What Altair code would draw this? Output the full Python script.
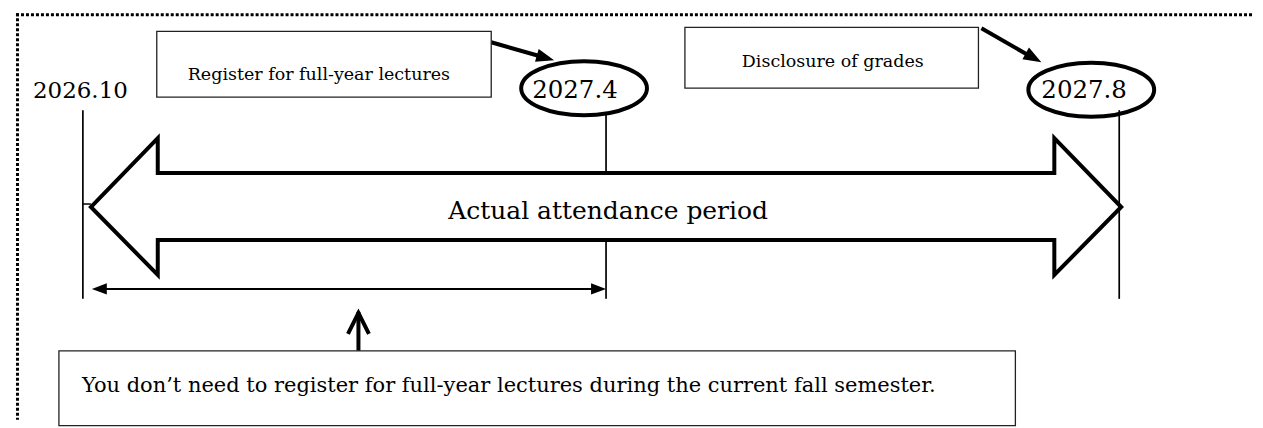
import altair as alt
import pandas as pd

# ---------------- diagram content (page-pixel coordinate system) ----------------
# dotted frame (top edge, left edge)
frame_x = [16, 17.5]
frame_y = [14.5, 13]
frame_x2 = [1255, 17.5]
frame_y2 = [14.5, 420]

# big double-headed arrow ("Actual attendance period"): outline as top / bottom edges
band_x = [91, 158, 158.01, 1056, 1056.01, 1123]
band_top = [207, 138, 173, 173, 138, 207]
band_bottom = [207, 275, 240, 240, 275, 207]

# rectangular boxes
box_x = [157, 686, 59]
box_x2 = [492, 980, 1017]
box_y = [31, 27, 351]
box_y2 = [97, 88, 426]

# ellipses around the dates
ellipse_x = [585, 1093]
ellipse_y = [88, 89.5]

# texts
text_labels = [
    "2026.10",
    "2027.4",
    "2027.8",
    "Register for full-year lectures",
    "Disclosure of grades",
    "Actual attendance period",
    "You don\u2019t need to register for full-year lectures during the current fall semester.",
]
text_x = [33, 533, 1043, 188, 743, 449, 82]
text_y = [98, 98, 98, 80, 67, 219, 392]
text_size = [23, 24.5, 24.5, 17.5, 17.5, 25, 21]

# straight segments: three timeline markers, tick, arrow shafts, span line, up-arrow shaft
seg_x = [83, 607, 1121, 83, 492, 983, 98, 359]
seg_y = [110, 112, 110, 204, 42, 28, 289, 312]
seg_x2 = [83, 607, 1121, 91, 541, 1030, 600, 359]
seg_y2 = [299, 299, 299, 204, 56, 55, 289, 352]
seg_w = [1.7, 1.7, 1.7, 1.5, 4, 4, 2, 4]

# filled arrow heads
head_x = [555, 1043, 92, 607]
head_y = [60, 62, 289, 289]
head_angle = [16, 29.5, 180, 0]
head_size = [1296, 1296, 900, 900]

# open chevron head of the up arrow
chevron_x = [359]
chevron_y = [313]

# ---------------- build chart ----------------
xs = alt.Scale(domain=[8, 1255], nice=False, zero=False)
ys = alt.Scale(domain=[8, 420], nice=False, zero=False, reverse=True)

frame_df = pd.DataFrame({"x": frame_x, "y": frame_y, "x2": frame_x2, "y2": frame_y2})
seg_df = pd.DataFrame({"x": seg_x, "y": seg_y, "x2": seg_x2, "y2": seg_y2, "w": seg_w})
band_df = pd.DataFrame({"x": band_x, "top": band_top, "bottom": band_bottom})
box_df = pd.DataFrame({"x": box_x, "x2": box_x2, "y": box_y, "y2": box_y2})
ell_df = pd.DataFrame({"x": ellipse_x, "y": ellipse_y})
text_df = pd.DataFrame({"label": text_labels, "x": text_x, "y": text_y, "fs": text_size})
head_df = pd.DataFrame({"x": head_x, "y": head_y, "a": head_angle, "s": head_size})
chev_df = pd.DataFrame({"x": chevron_x, "y": chevron_y})

X = lambda f="x": alt.X(f"{f}:Q", scale=xs, axis=None)
Y = lambda f="y": alt.Y(f"{f}:Q", scale=ys, axis=None)

frame = alt.Chart(frame_df).mark_rule(
    color="black", strokeWidth=3, strokeDash=[3, 2], strokeCap="butt"
).encode(x=X(), y=Y(), x2="x2:Q", y2="y2:Q")

segs = alt.Chart(seg_df).mark_rule(color="black", strokeCap="butt").encode(
    x=X(), y=Y(), x2="x2:Q", y2="y2:Q",
    strokeWidth=alt.StrokeWidth("w:Q", scale=None),
)

band = alt.Chart(band_df).mark_area(
    fill="white", stroke="black", strokeWidth=4, strokeJoin="miter", opacity=1,
    orient="vertical",
).encode(x=X(), y=Y("top"), y2="bottom:Q")

boxes = alt.Chart(box_df).mark_rect(
    fill="white", stroke="#222222", strokeWidth=1.3
).encode(x=X(), x2="x2:Q", y=Y(), y2="y2:Q")

ellipse_path = (
    "M -1 0 C -1 -0.237 -0.552 -0.43 0 -0.43 C 0.552 -0.43 1 -0.237 1 0 "
    "C 1 0.237 0.552 0.43 0 0.43 C -0.552 0.43 -1 0.237 -1 0 Z"
)
ellipses = alt.Chart(ell_df).mark_point(
    shape=ellipse_path, size=15876, filled=False, stroke="black", strokeWidth=4, opacity=1
).encode(x=X(), y=Y())

texts = alt.Chart(text_df).mark_text(
    font="DejaVu Serif", align="left", baseline="alphabetic", color="black"
).encode(
    x=X(), y=Y(), text="label:N", size=alt.Size("fs:Q", scale=None)
)

heads = alt.Chart(head_df).mark_point(
    shape="M 0 0 L -1 -0.37 L -1 0.37 Z", filled=True, fill="black", opacity=1
).encode(
    x=X(), y=Y(),
    angle=alt.Angle("a:Q", scale=None),
    size=alt.Size("s:Q", scale=None),
)

chevron = alt.Chart(chev_df).mark_point(
    shape="M -0.5 1 L 0 0 L 0.5 1", filled=False, stroke="black", strokeWidth=4,
    size=1764, opacity=1, strokeJoin="miter"
).encode(x=X(), y=Y())

chart = alt.layer(
    frame, segs, band, boxes, ellipses, texts, heads, chevron
).properties(
    width=1247, height=412, padding=0, background="white"
).configure_view(stroke=None)

chart.save("out.html", embed_options={"renderer": "svg", "actions": False})
